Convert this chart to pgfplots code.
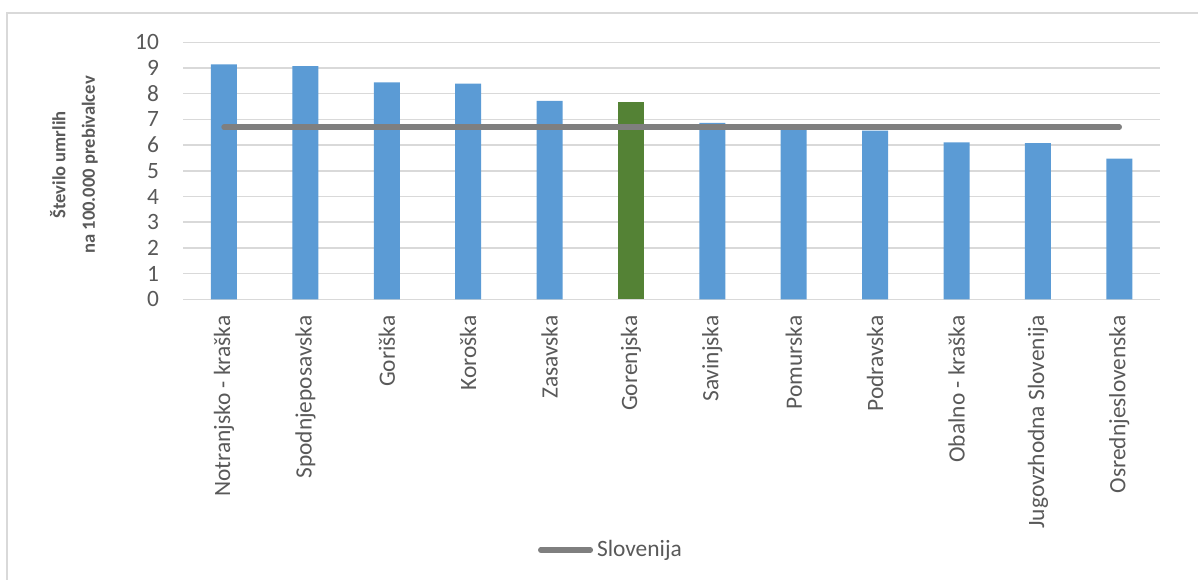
\documentclass[border=0pt]{standalone}
\usepackage{pgfplots}
\pgfplotsset{compat=1.18}
\usepackage{fontspec}
\setmainfont{Carlito}
\definecolor{barblue}{HTML}{5B9BD5}
\definecolor{bargreen}{HTML}{548235}
\definecolor{linegray}{HTML}{7F7F7F}
\definecolor{gridgray}{HTML}{D9D9D9}
\definecolor{txt}{HTML}{595959}
\begin{document}
\begin{tikzpicture}
\path[use as bounding box] (0,0) rectangle (599bp,290bp);
\draw[gridgray, line width=1bp] (3.5bp,-1bp) -- (3.5bp,283.5bp) -- (600bp,283.5bp);
\begin{axis}[
 at={(91.65bp,140.35bp)}, anchor=south west,
 scale only axis, width=488.35bp, height=128.5bp,
 xmin=-0.5, xmax=11.5, ymin=0, ymax=10,
 xtick={0,...,11},
 xticklabels={Notranjsko - kraška, Spodnjeposavska, Goriška, Koroška, Zasavska, Gorenjska, Savinjska, Pomurska, Podravska, Obalno - kraška, Jugovzhodna Slovenija, Osrednjeslovenska},
 ytick={0,...,10},
 axis line style={draw=none},
 major tick length=0pt,
 tick style={draw=none},
 ymajorgrids, grid style={gridgray, line width=0.75bp},
 tick label style={font=\fontsize{11.7bp}{14bp}\selectfont, text=txt},
 /pgf/number format/assume math mode=true,
 yticklabel style={anchor=east, inner sep=0pt, xshift=-12bp},
 xticklabel style={yshift=-8bp, rotate=90, anchor=east, inner sep=0pt},
 ylabel={Število umrlih\\na 100.000 prebivalcev},
 ylabel style={at={(axis description cs:-0.1119,0.5226)}, anchor=center, align=center, font=\bfseries\fontsize{9.3bp}{14.7bp}\selectfont, text=txt},
 legend style={at={(axis description cs:0.3632,-0.9755)}, anchor=west, draw=none, fill=none, inner sep=0pt, outer sep=0pt, font=\fontsize{11.7bp}{14bp}\selectfont, text=txt},
 legend image code/.code={\draw[#1, line cap=round] (0bp,0bp) -- (24.8bp,0bp);},
]
\addplot[ybar, bar width=13bp, bar shift=0pt, fill=barblue, draw=none, forget plot] table {
x y
0 9.14
1 9.07
2 8.44
3 8.39
4 7.72
6 6.86
7 6.74
8 6.56
9 6.11
10 6.08
11 5.47
};
\addplot[ybar, bar width=13bp, bar shift=0pt, fill=bargreen, draw=none, forget plot] coordinates {(5,7.68)};
\addplot[linegray, line width=2.7bp, line cap=round, mark=none] coordinates {(0,6.7) (1,6.7) (2,6.7) (3,6.7) (4,6.7) (5,6.7) (6,6.7) (7,6.7) (8,6.7) (9,6.7) (10,6.7) (11,6.7)};
\legend{Slovenija}
\end{axis}
\end{tikzpicture}
\end{document}
